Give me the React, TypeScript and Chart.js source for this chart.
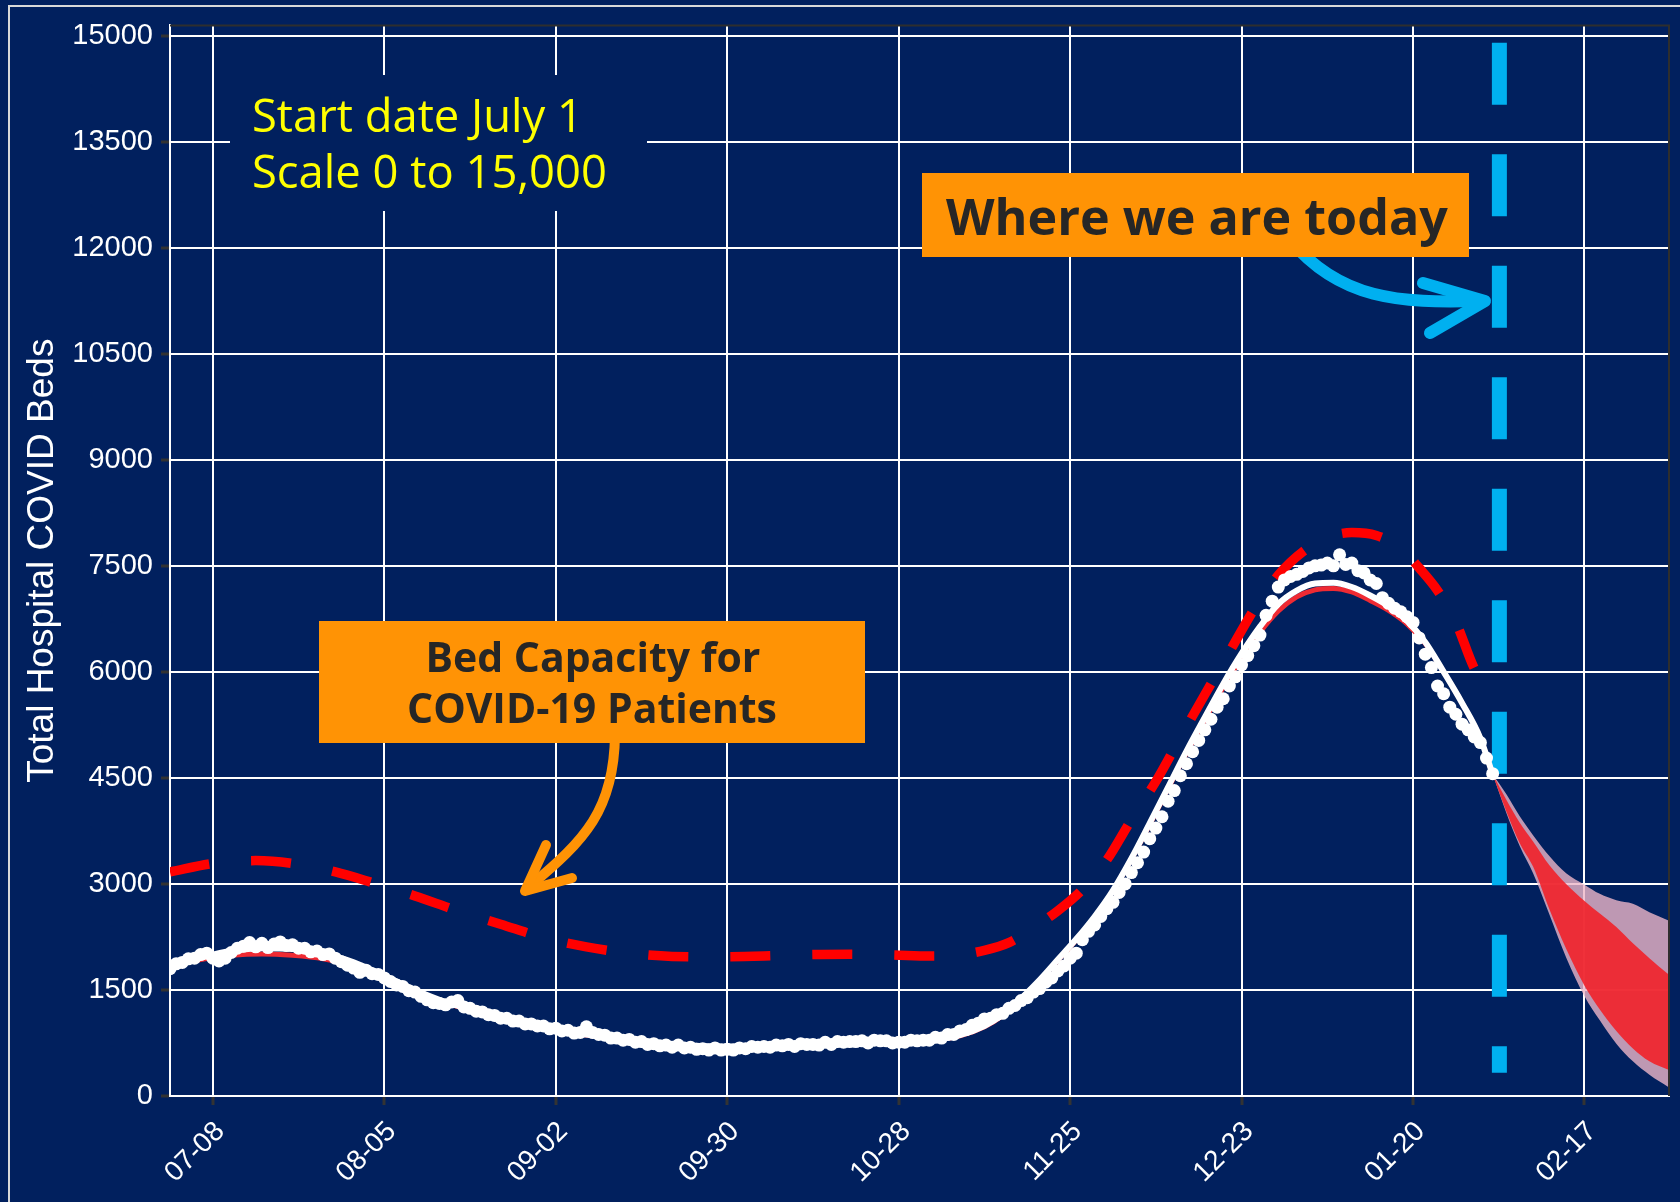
import React, { useEffect, useRef } from 'react';
import { Chart, registerables } from 'chart.js';

Chart.register(...registerables);

const NAVY = '#01205e';
const ORANGE = '#ff9305';
const SKY = '#00b0f0';

const Y_MAX = 15145;
const X_MAX = 244.8;
const yTickValues = [0, 1500, 3000, 4500, 6000, 7500, 9000, 10500, 12000, 13500, 15000];
const tickDays = [7, 35, 63, 91, 119, 147, 175, 203, 231];
const tickLabels = ['07-08', '08-05', '09-02', '09-30', '10-28', '11-25', '12-23', '01-20', '02-17'];

// observed daily census, day 0 = 07-01
const obsValues = [
  1800, 1870, 1890, 1940, 1950, 2000, 2020, 1950, 1910, 1950,
  2030, 2090, 2120, 2170, 2110, 2160, 2100, 2150, 2180, 2130,
  2140, 2090, 2090, 2040, 2050, 2000, 2010, 1950, 1900, 1850,
  1810, 1750, 1780, 1730, 1720, 1670, 1620, 1570, 1550, 1490,
  1470, 1410, 1360, 1320, 1310, 1290, 1330, 1350, 1260, 1240,
  1200, 1190, 1150, 1140, 1100, 1100, 1060, 1060, 1020, 1020,
  990, 990, 950, 960, 920, 930, 890, 900, 980, 900,
  870, 860, 820, 820, 790, 800, 760, 770, 730, 740,
  710, 720, 690, 720, 680, 690, 660, 670, 650, 680,
  650, 660, 650, 680, 670, 700, 690, 700, 690, 720,
  710, 730, 700, 740, 730, 730, 720, 760, 730, 770,
  760, 770, 770, 780, 750, 790, 780, 780, 750, 760,
  760, 790, 780, 790, 790, 830, 820, 870, 870, 920,
  940, 1000, 1030, 1090, 1100, 1150,
  1170, 1240, 1280, 1350, 1390, 1470, 1520, 1610, 1670, 1770, 1840, 1950, 2020, 2210,
  2330, 2420, 2540, 2650, 2740, 2880, 3000, 3160, 3300, 3450,
  3640, 3790, 3950, 4170, 4320, 4530, 4700, 4870, 5030, 5180,
  5330, 5500, 5620, 5800, 5930, 6100, 6230, 6370, 6520, 6800,
  7000, 7200, 7300, 7350, 7380, 7420, 7470, 7500, 7510, 7540,
  7500, 7655, 7520, 7540, 7430, 7400, 7300, 7250, 7050, 6970,
  6900, 6850, 6780, 6700, 6480, 6250, 6060, 5800, 5690, 5500,
  5400, 5260, 5180, 5080, 5000, 4780, 4560,
];

const fitDays = [
  0, 5, 10, 15, 20, 25, 30, 35, 40, 45, 50, 55, 60, 65, 70, 75, 80, 85, 90, 95,
  100, 105, 110, 115, 120, 125, 129, 133, 136, 139, 142, 145, 148, 151, 154, 157,
  160, 163, 166, 169, 172, 175, 178, 181, 184, 187, 190, 193, 196, 199, 202, 205,
  208, 211, 214, 216,
];
const whiteFitValues = [
  1850, 1960, 2050, 2090, 2080, 2020, 1890, 1700, 1500, 1330, 1200, 1090, 990, 910, 845, 790, 745, 715, 700, 705,
  725, 745, 765, 775, 780, 800, 860, 990, 1150, 1380, 1640, 1930, 2220, 2540, 2910, 3360,
  3860, 4370, 4880, 5360, 5830, 6260, 6640, 6960, 7150, 7250, 7260, 7200, 7080, 6930, 6720, 6420,
  6000, 5560, 5060, 4550,
];
const redFitValues = [
  1830, 1930, 1990, 2010, 1990, 1940, 1830, 1680, 1490, 1320, 1190, 1080, 980, 900, 840, 785, 740, 710, 695, 700,
  720, 740, 760, 770, 775, 795, 850, 980, 1140, 1370, 1630, 1920, 2210, 2530, 2900, 3350,
  3840, 4350, 4850, 5320, 5780, 6190, 6560, 6860, 7060, 7160, 7180, 7130, 7010, 6870, 6680, 6400,
  6000, 5560, 5060, 4550,
];

const capacityDays = [
  0, 7, 14, 20, 27, 33, 40, 47, 54, 61, 68, 75, 82, 90, 97, 104, 111, 118, 124, 129,
  133, 137, 141, 145, 149, 153, 157, 161, 165, 169, 173, 177, 181, 185, 189, 193, 197, 201,
  204, 207, 210, 213, 215.8,
];
const capacityValues = [
  3170, 3290, 3330, 3290, 3170, 3020, 2830, 2620, 2430, 2240, 2110, 2020, 1975, 1970, 1980, 2000, 2005, 1995, 1980, 2000,
  2060, 2170, 2380, 2620, 2920, 3340, 3910, 4450, 5070, 5680, 6280, 6880, 7370, 7700, 7900, 7970, 7930, 7750,
  7470, 7150, 6700, 6050, 5690,
];

const todayDay = 217.1;
const todaySpan = [14900, 330];

const forecastDays = [216, 218.3, 220.4, 222.6, 225.3, 228, 231, 233.5, 236.2, 238.9, 241.6, 244.8];
const redUpperValues = [4550, 4180, 3870, 3600, 3260, 3000, 2760, 2580, 2390, 2160, 1950, 1714];
const redLowerValues = [4550, 4010, 3580, 3245, 2633, 2082, 1561, 1224, 918, 673, 490, 367];
const pinkUpperValues = [4550, 4260, 3960, 3690, 3390, 3150, 2990, 2860, 2770, 2720, 2600, 2480];
const pinkLowerValues = [4550, 3990, 3540, 3150, 2560, 1960, 1410, 1070, 740, 490, 300, 122];

const xy = (xs: number[], ys: number[]) => xs.map((x, i) => ({ x, y: ys[i] }));

const SANS = '"Liberation Sans", Arial, sans-serif';
const HUMAN = '"Open Sans", "Noto Sans", sans-serif';

function fitSize(ctx: CanvasRenderingContext2D, text: string, family: string, weight: string, target: number) {
  ctx.font = `${weight} 100px ${family}`;
  const w = ctx.measureText(text).width;
  return (100 * target) / w;
}

const decorPlugin = {
  id: 'decor',
  beforeDraw(chart: any) {
    const ctx = chart.ctx as CanvasRenderingContext2D;
    ctx.save();
    ctx.fillStyle = NAVY;
    ctx.fillRect(0, 0, chart.width, chart.height);
    ctx.restore();
  },
  afterDraw(chart: any) {
    const ctx = chart.ctx as CanvasRenderingContext2D;
    const area = chart.chartArea;
    const xs = chart.scales.x;
    ctx.save();

    // outer frame
    ctx.strokeStyle = '#d8d8d8';
    ctx.lineWidth = 2;
    ctx.beginPath();
    ctx.moveTo(9, chart.height);
    ctx.lineTo(9, 6);
    ctx.lineTo(chart.width, 6);
    ctx.stroke();

    // panel top/right border
    ctx.strokeStyle = '#2e2e2e';
    ctx.lineWidth = 2;
    ctx.beginPath();
    ctx.moveTo(area.left, area.top);
    ctx.lineTo(area.right, area.top);
    ctx.lineTo(area.right, area.bottom);
    ctx.stroke();

    // x tick labels
    ctx.fillStyle = '#ffffff';
    ctx.font = `28px ${SANS}`;
    ctx.textAlign = 'right';
    ctx.textBaseline = 'middle';
    tickDays.forEach((d, i) => {
      const px = xs.getPixelForValue(d);
      ctx.save();
      ctx.translate(px + 7.5, area.bottom + 31);
      ctx.rotate(-Math.PI / 4);
      ctx.fillText(tickLabels[i], 0, 0);
      ctx.restore();
    });

    // y title
    ctx.save();
    ctx.font = `37px ${SANS}`;
    ctx.textAlign = 'center';
    ctx.textBaseline = 'alphabetic';
    ctx.translate(53, (area.top + area.bottom) / 2);
    ctx.rotate(-Math.PI / 2);
    ctx.fillText('Total Hospital COVID Beds', 0, 0);
    ctx.restore();

    // start-date note
    ctx.fillStyle = NAVY;
    ctx.fillRect(230, 75, 417, 136);
    ctx.fillStyle = '#ffff00';
    ctx.textAlign = 'left';
    ctx.textBaseline = 'alphabetic';
    const s1 = fitSize(ctx, 'Scale 0 to 15,000', HUMAN, '400', 355);
    ctx.font = `400 ${s1}px ${HUMAN}`;
    ctx.fillText('Start date July 1', 252, 132);
    ctx.fillText('Scale 0 to 15,000', 252, 188);

    // blue arrow
    ctx.strokeStyle = SKY;
    ctx.lineWidth = 12;
    ctx.lineCap = 'round';
    ctx.lineJoin = 'round';
    ctx.beginPath();
    ctx.moveTo(1290, 240);
    ctx.bezierCurveTo(1340, 300, 1400, 303, 1478, 301);
    ctx.stroke();
    ctx.beginPath();
    ctx.moveTo(1423, 283);
    ctx.lineTo(1485, 301);
    ctx.lineTo(1430, 333);
    ctx.stroke();

    // today box
    ctx.fillStyle = ORANGE;
    ctx.fillRect(922, 173, 547, 84);
    ctx.fillStyle = '#262626';
    const s2 = fitSize(ctx, 'Where we are today', HUMAN, '700', 502);
    ctx.font = `700 ${s2}px ${HUMAN}`;
    ctx.textAlign = 'left';
    ctx.fillText('Where we are today', 946, 235);

    // orange arrow
    ctx.strokeStyle = ORANGE;
    ctx.lineWidth = 10;
    ctx.beginPath();
    ctx.moveTo(615, 735);
    ctx.bezierCurveTo(614, 810, 585, 840, 530, 886);
    ctx.stroke();
    ctx.beginPath();
    ctx.moveTo(546, 845);
    ctx.lineTo(525, 891);
    ctx.lineTo(572, 878);
    ctx.stroke();

    // capacity box
    ctx.fillStyle = ORANGE;
    ctx.fillRect(319, 621, 546, 122);
    ctx.fillStyle = '#262626';
    const s3 = fitSize(ctx, 'COVID-19 Patients', HUMAN, '700', 370);
    ctx.font = `700 ${s3}px ${HUMAN}`;
    ctx.textAlign = 'center';
    ctx.fillText('Bed Capacity for', 593, 672);
    ctx.fillText('COVID-19 Patients', 592, 723);

    ctx.restore();
  },
};

export default function App() {
  const ref = useRef<HTMLCanvasElement | null>(null);

  useEffect(() => {
    document.body.style.margin = '0';
    document.body.style.background = NAVY;
    if (!ref.current) return;
    const chart = new Chart(ref.current, {
      type: 'line',
      data: {
        datasets: [
          {
            label: 'observed',
            data: obsValues.map((v, i) => ({ x: i, y: v })),
            showLine: false,
            pointRadius: 6.5,
            pointBackgroundColor: '#ffffff',
            pointBorderWidth: 0,
            borderColor: '#ffffff',
            order: 0,
          },
          {
            label: 'fit',
            data: xy(fitDays, whiteFitValues),
            borderColor: '#ffffff',
            borderWidth: 6,
            pointRadius: 0,
            cubicInterpolationMode: 'monotone',
            order: 1,
          },
          {
            label: 'model',
            data: xy(fitDays, redFitValues),
            borderColor: '#ef2a33',
            borderWidth: 5,
            pointRadius: 0,
            cubicInterpolationMode: 'monotone',
            order: 2,
          },
          {
            label: 'capacity',
            data: xy(capacityDays, capacityValues),
            borderColor: '#ff0000',
            borderWidth: 9.5,
            borderDash: [40, 42],
            borderCapStyle: 'butt',
            pointRadius: 0,
            cubicInterpolationMode: 'monotone',
            order: 3,
          },
          {
            label: 'today',
            data: [
              { x: todayDay, y: todaySpan[0] },
              { x: todayDay, y: todaySpan[1] },
            ],
            borderColor: SKY,
            borderWidth: 15,
            borderDash: [62, 49.5],
            borderCapStyle: 'butt',
            pointRadius: 0,
            order: 4,
          },
          {
            label: 'inner upper',
            data: xy(forecastDays, redUpperValues),
            borderWidth: 0,
            borderColor: 'rgba(0,0,0,0)',
            backgroundColor: 'rgba(240,36,44,0.92)',
            fill: '+1',
            pointRadius: 0,
            cubicInterpolationMode: 'monotone',
            order: 5,
          },
          {
            label: 'inner lower',
            data: xy(forecastDays, redLowerValues),
            borderWidth: 0,
            borderColor: 'rgba(0,0,0,0)',
            pointRadius: 0,
            cubicInterpolationMode: 'monotone',
            order: 5,
          },
          {
            label: 'outer upper',
            data: xy(forecastDays, pinkUpperValues),
            borderWidth: 0,
            borderColor: 'rgba(0,0,0,0)',
            backgroundColor: 'rgba(238,182,200,0.8)',
            fill: '+1',
            pointRadius: 0,
            cubicInterpolationMode: 'monotone',
            order: 7,
          },
          {
            label: 'outer lower',
            data: xy(forecastDays, pinkLowerValues),
            borderWidth: 0,
            borderColor: 'rgba(0,0,0,0)',
            pointRadius: 0,
            cubicInterpolationMode: 'monotone',
            order: 7,
          },
        ],
      },
      options: {
        responsive: false,
        animation: false,
        devicePixelRatio: 1,
        layout: { padding: { left: 0, right: 11, top: 23, bottom: 0 } },
        plugins: {
          legend: { display: false },
          tooltip: { enabled: false },
        },
        scales: {
          x: {
            type: 'linear',
            min: 0,
            max: X_MAX,
            afterBuildTicks: (s: any) => {
              s.ticks = tickDays.map((v) => ({ value: v }));
            },
            afterFit: (s: any) => {
              s.height = 106;
            },
            ticks: { display: false, autoSkip: false },
            grid: {
              color: '#ffffff',
              lineWidth: 2,
              tickLength: 9,
              tickColor: '#333333',
              tickWidth: 3,
              drawTicks: true,
            },
            border: { display: true, color: '#ffffff', width: 2 },
          },
          y: {
            type: 'linear',
            min: 0,
            max: Y_MAX,
            afterBuildTicks: (s: any) => {
              s.ticks = yTickValues.map((v) => ({ value: v }));
            },
            afterFit: (s: any) => {
              s.width = 170;
            },
            ticks: {
              color: '#ffffff',
              font: { family: SANS, size: 29 },
              padding: 8,
              autoSkip: false,
              callback: (v: any) => String(v),
            },
            grid: {
              color: '#ffffff',
              lineWidth: 2,
              tickLength: 9,
              tickColor: '#333333',
              tickWidth: 3,
              drawTicks: true,
            },
            border: { display: true, color: '#ffffff', width: 2 },
          },
        },
      },
      plugins: [decorPlugin],
    });
    return () => chart.destroy();
  }, []);

  return (
    <div style={{ position: 'absolute', left: 0, top: 0, width: 1680, height: 1202, background: NAVY }}>
      <canvas ref={ref} width={1680} height={1202} style={{ display: 'block' }} />
    </div>
  );
}
